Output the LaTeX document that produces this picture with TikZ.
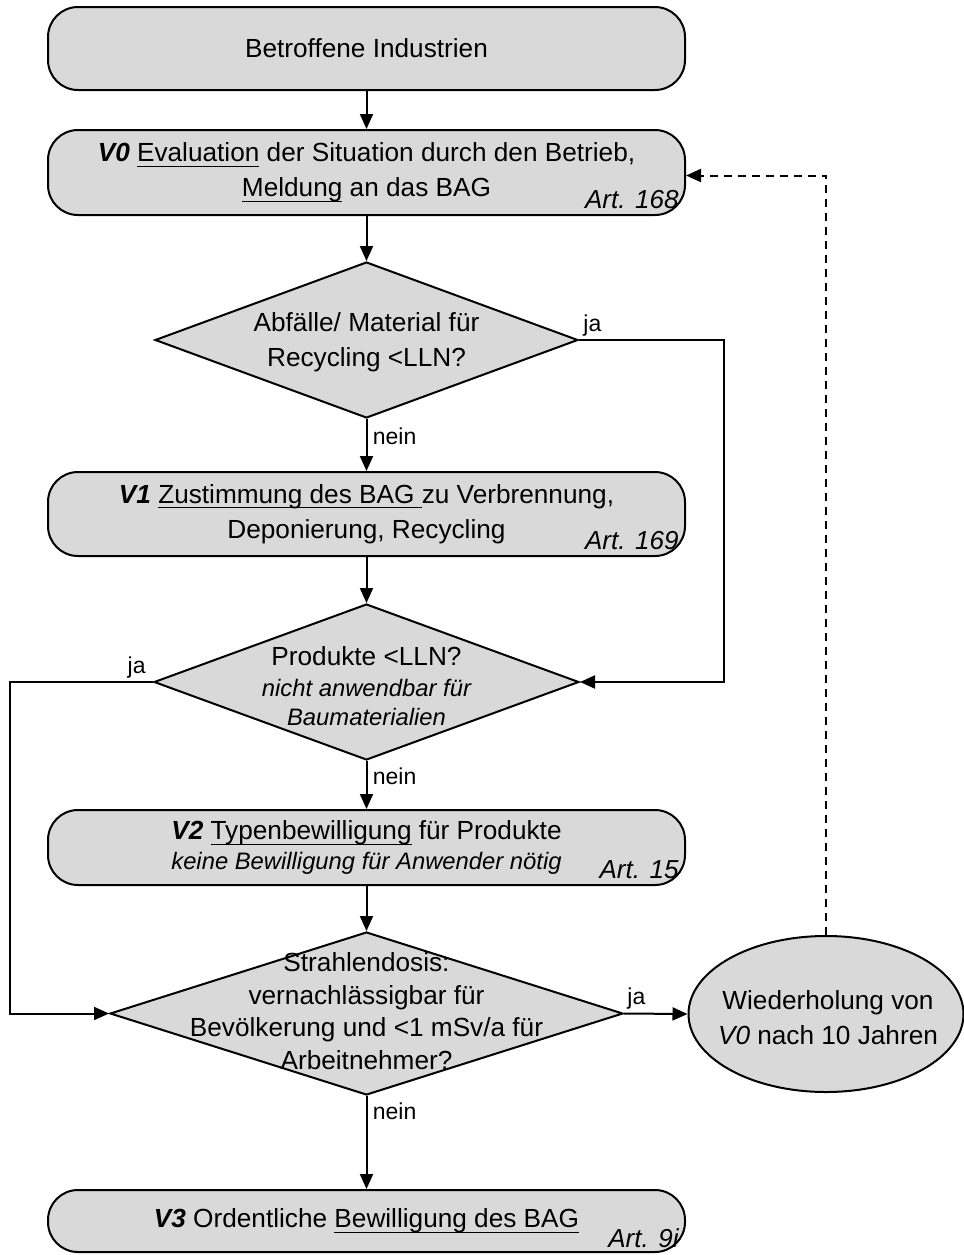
\documentclass[tikz,border=0pt]{standalone}
\usepackage{fontspec}
\setmainfont{Liberation Sans}
\usetikzlibrary{shapes.geometric,arrows.meta}
\definecolor{boxfill}{RGB}{217,217,217}
\newcommand\myul[1]{{\setbox0\hbox{#1}\rlap{\rule[-2.6pt]{\wd0}{0.6pt}}\box0}}
\newcommand\mainsz{\fontsize{13.1}{17.5}\selectfont}
\newcommand\smallsz{\fontsize{11.9}{14.5}\selectfont}
\newcommand\bi[1]{\textbf{\textit{#1}}}
\begin{document}
\begin{tikzpicture}[x=0.5pt,y=-0.5pt,
  box/.style={draw=black,line width=1pt,fill=boxfill,rounded corners=15pt,minimum width=318.5pt,inner sep=0pt,align=center,font=\mainsz},
  dia/.style={draw=black,line width=1pt,fill=boxfill,diamond,inner sep=0pt},
  ell/.style={draw=black,line width=1pt,fill=boxfill,ellipse,inner sep=0pt},
  txt/.style={align=center,font=\mainsz,inner sep=0pt},
  art/.style={font=\fontsize{13}{15}\selectfont\itshape,inner sep=0pt,anchor=base east},
  lbl/.style={font=\fontsize{11.5}{13}\selectfont,inner sep=0pt},
  arr/.style={line width=1pt,-{Triangle[length=7.5pt,width=6.5pt]}},
]
\useasboundingbox (0,0) rectangle (964,1255);

% boxes
\node[box,minimum height=41.5pt] (b0) at (366.5,48.5) {Betroffene Industrien};
\node[box,minimum height=42.5pt] (v0) at (366.5,172.5) {\bi{V0} \myul{Evaluation} der Situation durch den Betrieb,\\\myul{Meldung} an das BAG};
\node[art] (a0) at ([xshift=-3.5pt,yshift=4pt]v0.south east) {Art. 168};

\node[dia,minimum width=211.5pt,minimum height=78pt] (d1) at (366.5,340) {};
\node[txt] (d1t) at (366.5,342) {Abfälle/ Material für\\Recycling <LLN?};

\node[box,minimum height=42pt] (v1) at (366.5,514) {\bi{V1} \myul{Zustimmung des BAG\ }zu Verbrennung,\\Deponierung, Recycling};
\node[art] (a1) at ([xshift=-3.5pt,yshift=4pt]v1.south east) {Art. 169};

\node[dia,minimum width=212.5pt,minimum height=78pt] (d2) at (366.5,682) {};
\node[txt,font=\fontsize{13.1}{14.7}\selectfont] (d2t) at (366.5,686) {Produkte <LLN?\\[0.7pt]{\smallsz\itshape nicht anwendbar für}\\{\smallsz\itshape Baumaterialien}};

\node[box,minimum height=37.5pt,font=\fontsize{13.1}{15}\selectfont] (v2) at (366.5,847.5) {\bi{V2} \myul{Typenbewilligung} für Produkte\\{\smallsz\itshape keine Bewilligung für Anwender nötig}};
\node[art] (a2) at ([xshift=-3.5pt,yshift=4pt]v2.south east) {Art. 15};

\node[dia,minimum width=256.5pt,minimum height=81.5pt] (d3) at (366.5,1013.5) {};
\node[txt,font=\fontsize{13.1}{16.3}\selectfont] (d3t) at (366.5,1011) {Strahlendosis:\\vernachlässigbar für\\Bevölkerung und <1 mSv/a für\\Arbeitnehmer?};

\node[ell,minimum width=137.5pt,minimum height=78pt] (el) at (826,1014) {};
\node[txt] (elt) at (828,1018) {Wiederholung von\\\textit{V0} nach 10 Jahren};

\node[box,minimum height=31pt] (v3) at (366.5,1221) {\bi{V3} Ordentliche \myul{Bewilligung des BAG}};
\node[art] (a3) at ([xshift=-3.5pt,yshift=3pt]v3.south east) {Art. 9i};

% connectors
\draw[arr] (b0) -- (v0);
\draw[arr] (v0) -- (d1);
\draw[arr] (d1) -- (v1);
\draw[arr] (v1) -- (d2);
\draw[arr] (d2) -- (v2);
\draw[arr] (v2) -- (d3);
\draw[arr] (d3) -- (v3);
\draw[arr] (d1.east) -- ++(145,0) |- (d2.east);
\draw[arr] (d2.west) -- ++(-143,0) |- (d3.west);
\draw[arr] (d3.east) -- (el.west);
\draw[arr,dash pattern=on 4pt off 3pt] (el.north) |- ([yshift=-1.5pt]v0.east);

% labels
\node[lbl,anchor=base west] (ja1) at ([xshift=2pt,yshift=4.5pt]d1.east) {ja};
\node[lbl,anchor=north west] (nein1) at ([xshift=3pt,yshift=-4pt]d1.south) {nein};
\node[lbl,anchor=base east] (ja2) at ([xshift=-3.5pt,yshift=4.5pt]d2.west) {ja};
\node[lbl,anchor=north west] (nein2) at ([xshift=3pt,yshift=-3pt]d2.south) {nein};
\node[lbl,anchor=base west] (ja3) at ([xshift=1.5pt,yshift=4.5pt]d3.east) {ja};
\node[lbl,anchor=north west] (nein3) at ([xshift=3pt,yshift=-3pt]d3.south) {nein};
\end{tikzpicture}
\end{document}
